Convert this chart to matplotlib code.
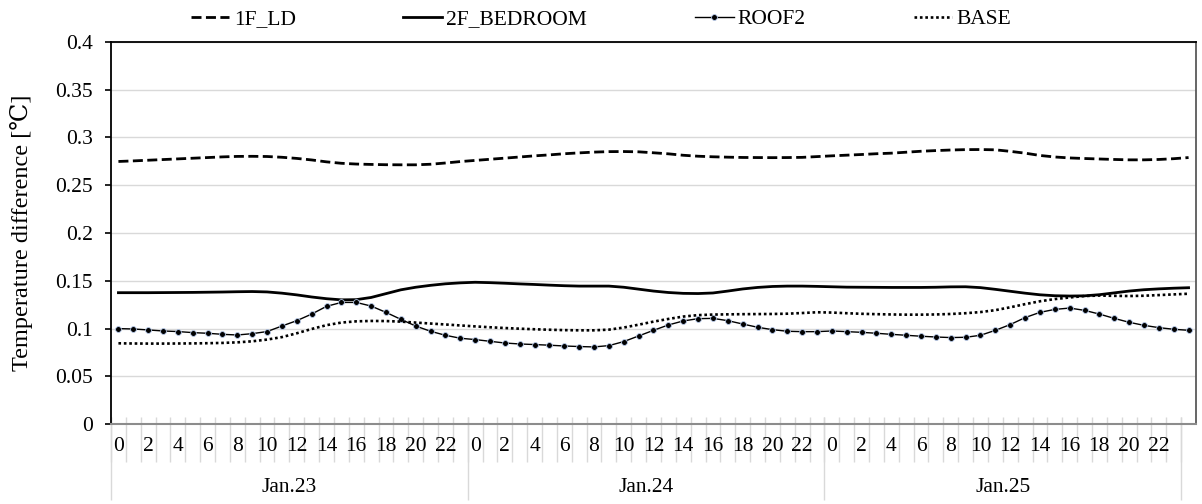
import matplotlib as mpl
mpl.use('Agg')
import matplotlib.pyplot as plt
import numpy as np

plt.rcParams['font.family'] = ['Liberation Serif', 'DejaVu Serif']
plt.rcParams['font.size'] = 15.5

# hourly values, Jan.23 0h .. Jan.26 0h (73 points)
ld_1f = [0.2749, 0.2755, 0.2762, 0.2769, 0.2776, 0.2783, 0.2790, 0.2797, 0.2802, 0.2803,
         0.2801, 0.2793, 0.2781, 0.2765, 0.2745, 0.2730, 0.2722, 0.2718, 0.2715, 0.2714,
         0.2714, 0.2720, 0.2733, 0.2748, 0.2760, 0.2772, 0.2784, 0.2796, 0.2808, 0.2818,
         0.2830, 0.2839, 0.2847, 0.2852, 0.2853, 0.2850, 0.2840, 0.2829, 0.2814, 0.2804,
         0.2798, 0.2794, 0.2791, 0.2790, 0.2789, 0.2790, 0.2792, 0.2800, 0.2808, 0.2815,
         0.2822, 0.2830, 0.2836, 0.2846, 0.2856, 0.2863, 0.2869, 0.2873, 0.2874, 0.2871,
         0.2855, 0.2836, 0.2812, 0.2796, 0.2786, 0.2780, 0.2775, 0.2770, 0.2766, 0.2766,
         0.2770, 0.2778, 0.2790]
bedroom_2f = [0.1375, 0.1375, 0.1375, 0.1376, 0.1377, 0.1378, 0.1380, 0.1382, 0.1385, 0.1387,
              0.1383, 0.1370, 0.1352, 0.1330, 0.1312, 0.1300, 0.1302, 0.1325, 0.1365, 0.1405,
              0.1432, 0.1452, 0.1468, 0.1478, 0.1484, 0.1480, 0.1474, 0.1467, 0.1461, 0.1454,
              0.1448, 0.1444, 0.1444, 0.1444, 0.1432, 0.1412, 0.1392, 0.1377, 0.1368, 0.1366,
              0.1372, 0.1392, 0.1414, 0.1430, 0.1440, 0.1444, 0.1444, 0.1441, 0.1437, 0.1433,
              0.1432, 0.1431, 0.1430, 0.1430, 0.1430, 0.1432, 0.1436, 0.1437, 0.1428, 0.1410,
              0.1390, 0.1370, 0.1353, 0.1343, 0.1340, 0.1342, 0.1354, 0.1373, 0.1392, 0.1406,
              0.1415, 0.1422, 0.1427]
roof2 = [0.0999, 0.0995, 0.0985, 0.0974, 0.0968, 0.0957, 0.0950, 0.0939, 0.0932, 0.0946,
         0.0968, 0.1026, 0.1082, 0.1151, 0.1232, 0.1273, 0.1273, 0.1235, 0.1169, 0.1096,
         0.1026, 0.0971, 0.0929, 0.0898, 0.0884, 0.0866, 0.0848, 0.0838, 0.0832, 0.0825,
         0.0817, 0.0811, 0.0807, 0.0821, 0.0863, 0.0922, 0.0981, 0.1037, 0.1079, 0.1103,
         0.1106, 0.1082, 0.1047, 0.1013, 0.0988, 0.0971, 0.0967, 0.0967, 0.0974, 0.0967,
         0.0960, 0.0950, 0.0939, 0.0929, 0.0919, 0.0911, 0.0905, 0.0908, 0.0929, 0.0981,
         0.1041, 0.1114, 0.1169, 0.1200, 0.1214, 0.1190, 0.1151, 0.1106, 0.1065, 0.1033,
         0.1009, 0.0992, 0.0981]
base = [0.0845, 0.0843, 0.0842, 0.0842, 0.0843, 0.0844, 0.0846, 0.0849, 0.0855, 0.0866,
        0.0884, 0.0910, 0.0950, 0.0995, 0.1035, 0.1062, 0.1075, 0.1079, 0.1078, 0.1072,
        0.1062, 0.1052, 0.1042, 0.1032, 0.1022, 0.1013, 0.1005, 0.0998, 0.0992, 0.0987,
        0.0983, 0.0981, 0.0981, 0.0988, 0.1010, 0.1040, 0.1072, 0.1100, 0.1125, 0.1140,
        0.1146, 0.1148, 0.1150, 0.1151, 0.1152, 0.1155, 0.1162, 0.1170, 0.1167, 0.1160,
        0.1154, 0.1150, 0.1147, 0.1145, 0.1145, 0.1147, 0.1152, 0.1160, 0.1172, 0.1192,
        0.1222, 0.1255, 0.1285, 0.1308, 0.1325, 0.1340, 0.1345, 0.1342, 0.1340, 0.1343,
        0.1350, 0.1357, 0.1364]

days = ['Jan.23', 'Jan.24', 'Jan.25']
hour_labels = [str(h) for h in range(0, 24, 2)]

x = np.arange(len(roof2))

fig = plt.figure(figsize=(12.02, 5.04), dpi=100)
ax = fig.add_axes([111/1202, 80/504, 1085/1202, 382/504])

ax.plot(x, ld_1f, color='black', lw=2, linestyle=(0, (3.6, 1.6)), label='1F_LD')
ax.plot(x, bedroom_2f, color='black', lw=2, label='2F_BEDROOM')
ax.plot(x, roof2, color='black', lw=1, marker='o', ms=4.2, mfc='black',
        mec='#b4c7e7', mew=0.6, label='ROOF2')
ax.plot(x, base, color='black', lw=1.9, linestyle=(0, (1, 1.05)), label='BASE')

ax.set_xlim(-0.5, len(x) - 0.5)
ax.set_ylim(0, 0.4)
yt = np.arange(0, 0.401, 0.05)
ax.set_yticks(yt)
ax.set_yticklabels(['0'] + ['%g' % round(v, 2) for v in yt[1:]])
ax.yaxis.grid(True, color='#d9d9d9', lw=1)
ax.set_axisbelow(True)
ax.tick_params(axis='y', direction='out', length=4.3, width=1.2, color='black', pad=9,
               labelsize=15.5)

ax.spines['left'].set_color('black')
ax.spines['left'].set_linewidth(1.3)
ax.spines['top'].set_color('black')
ax.spines['top'].set_linewidth(1.3)
ax.spines['right'].set_color('#595959')
ax.spines['right'].set_linewidth(1.3)
ax.spines['bottom'].set_color('#8c8c8c')
ax.spines['bottom'].set_linewidth(1.5)

# two level category axis
ax.set_xticks([])
xt = ax.get_xaxis_transform()
ax.vlines(np.arange(-0.5, 72), -0.0995, 0.018, transform=xt, clip_on=False,
          colors='#d9d9d9', lw=1, zorder=0)
ax.vlines([-0.5, 23.5, 47.5, 71.5], -0.199, 0.018, transform=xt, clip_on=False,
          colors='#d9d9d9', lw=1, zorder=0)
for d, day in enumerate(days):
    for i, lab in enumerate(hour_labels):
        ax.text(d*24 + i*2, -0.06, lab, transform=xt, ha='center', va='center', fontsize=15.5)
    ax.text(d*24 + 11.5, -0.167, day, transform=xt, ha='center', va='center', fontsize=15.5)

ax.set_ylabel('Temperature difference [℃]', fontsize=17.5)
ax.yaxis.set_label_coords(-0.072, 0.5)

fig.legend(loc='center', bbox_to_anchor=(0.5, 1 - 19/504), ncol=4, frameon=False,
           fontsize=15.5, handlelength=1.8, handletextpad=0.2, columnspacing=5.0)

fig.savefig('out.png', dpi=100)
